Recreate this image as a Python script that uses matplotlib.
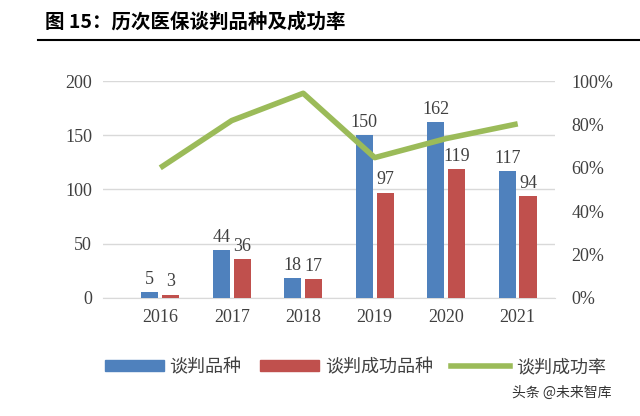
import numpy as np
import matplotlib.pyplot as plt
from matplotlib.lines import Line2D
from matplotlib.patches import Patch

plt.rcParams['font.family'] = ['Liberation Serif', 'Noto Sans CJK SC']

years = ['2016', '2017', '2018', '2019', '2020', '2021']
nego = [5, 44, 18, 150, 162, 117]
success = [3, 36, 17, 97, 119, 94]
rate = [60.0, 81.8, 94.4, 64.7, 73.5, 80.3]

blue = '#4F81BD'
red = '#C0504D'
green = '#9BBB59'

fig = plt.figure(figsize=(6.4, 4.16), dpi=100)
ax = fig.add_axes([0.161, 0.284, 0.706, 0.521])
x = np.arange(len(years))
w = 0.24
off = 0.145
ax.bar(x - off, nego, w, color=blue, zorder=3)
ax.bar(x + off, success, w, color=red, zorder=3)
for i in range(len(years)):
    ax.text(x[i] - off, nego[i] + 4, str(nego[i]), ha='center', va='bottom', fontsize=13, color='#404040')
    ax.text(x[i] + off, success[i] + 4, str(success[i]), ha='center', va='bottom', fontsize=13, color='#404040')

ax.set_ylim(0, 200)
ax.set_yticks([0, 50, 100, 150, 200])
ax.set_xlim(-0.8, 5.52)
ax.set_xticks(x)
ax.set_xticklabels(years)
ax.grid(axis='y', color='#D9D9D9', linewidth=1, zorder=0)
for s in ['top', 'right', 'left']:
    ax.spines[s].set_visible(False)
ax.spines['bottom'].set_color('#D9D9D9')
ax.tick_params(length=0, labelsize=13, colors='#404040', pad=8)

ax2 = ax.twinx()
ax2.plot(x, rate, color=green, linewidth=4, solid_capstyle='butt', zorder=4)
ax2.set_ylim(0, 100)
ax2.set_yticks([0, 20, 40, 60, 80, 100])
ax2.set_yticklabels([f'{v}%' for v in [0, 20, 40, 60, 80, 100]])
for s in ax2.spines.values():
    s.set_visible(False)
ax2.tick_params(length=0, labelsize=13, colors='#404040', pad=12)

fig.text(0.07, 0.947, '图 15：历次医保谈判品种及成功率', fontsize=14, fontweight='bold',
         family=['Noto Sans CJK SC', 'Liberation Serif'], va='center', ha='left')
fig.add_artist(Line2D([0.06, 1.0], [0.903, 0.903], color='black', linewidth=1.5))

handles = [Patch(color=blue), Patch(color=red), Line2D([0], [0], color=green, linewidth=4)]
labels = ['谈判品种', '谈判成功品种', '谈判成功率']
fig.legend(handles, labels, loc='center', bbox_to_anchor=(0.555, 0.118), ncol=3, frameon=False,
           prop={'family': 'Noto Sans CJK SC', 'size': 13}, handlelength=3.3, handleheight=0.6,
           handletextpad=0.3, columnspacing=1.0, labelcolor='#404040')

fig.text(0.955, 0.055, '头条 @未来智库', fontsize=10, family=['Noto Sans CJK SC'], ha='right', va='center', color='#333333')

fig.savefig('out.png', dpi=100)
